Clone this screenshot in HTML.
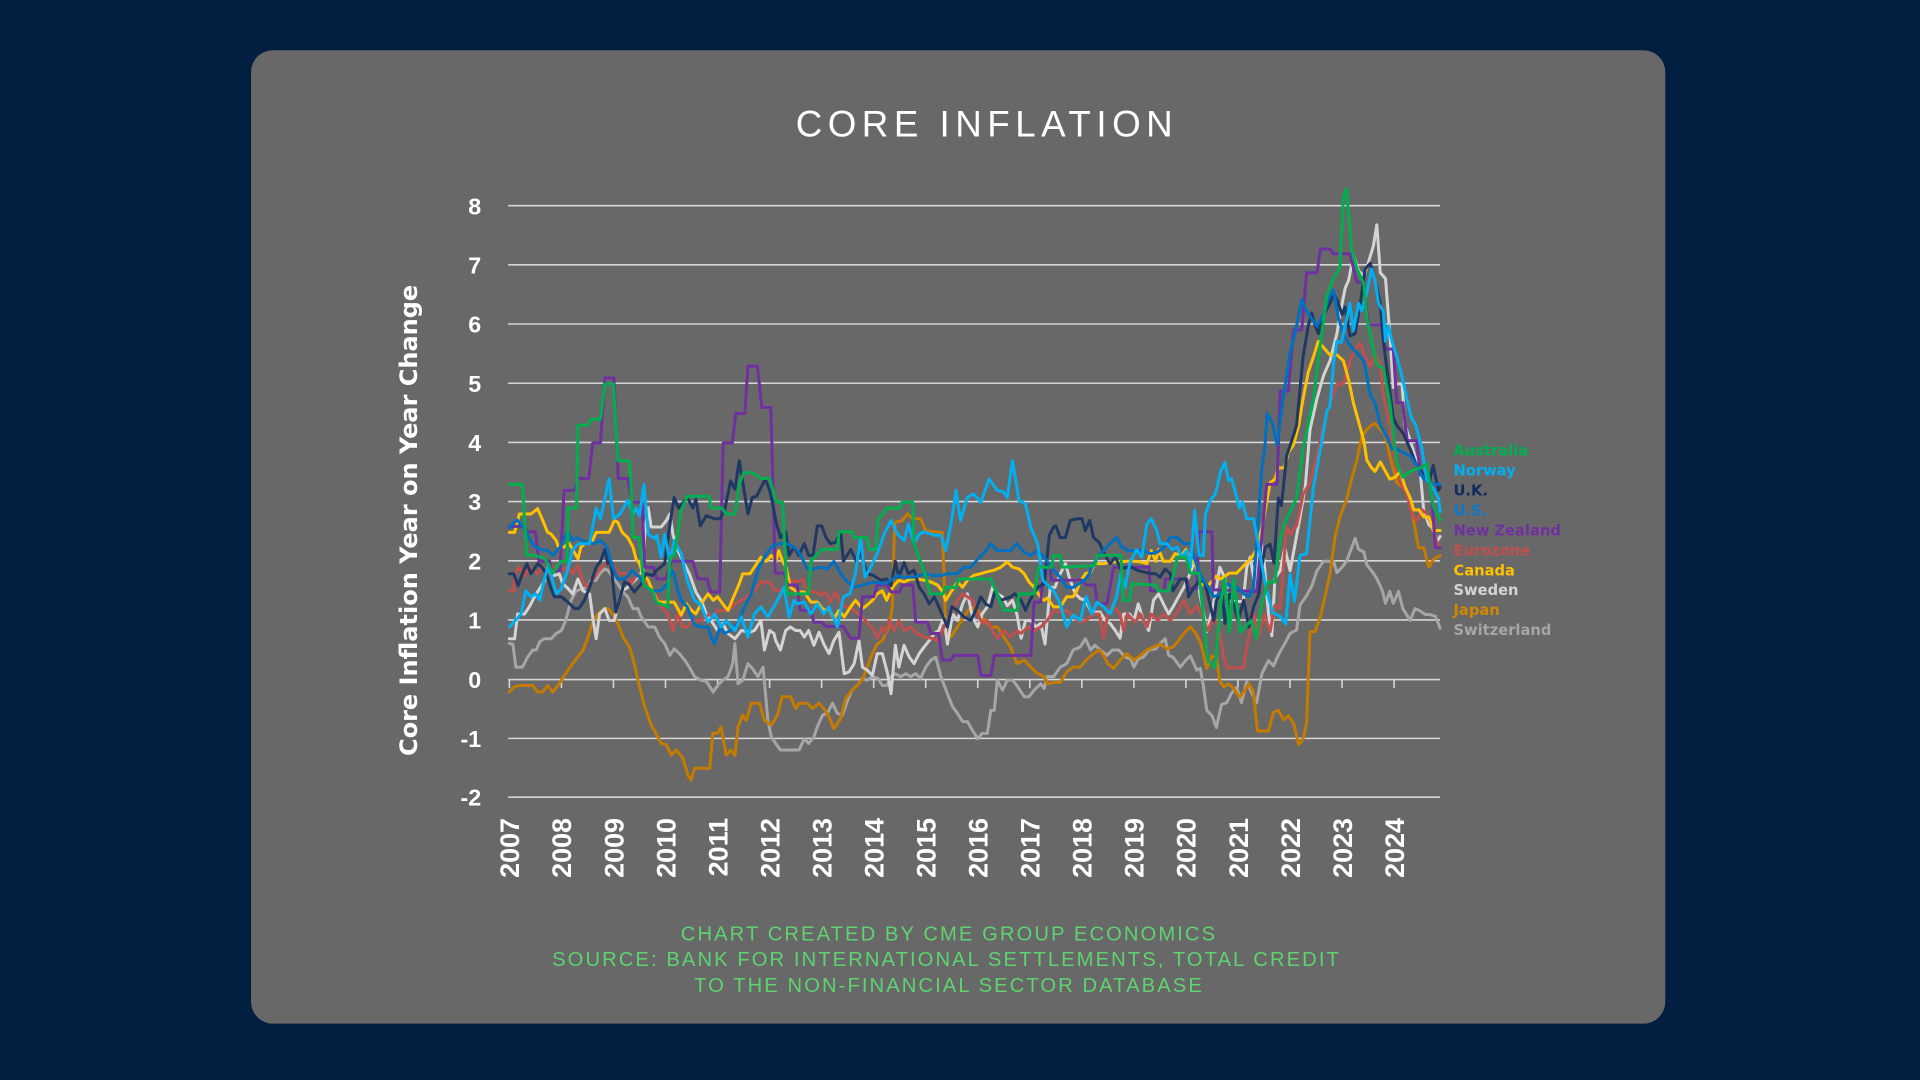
<!DOCTYPE html>
<html>
<head>
<meta charset="utf-8">
<style>
  html, body { margin: 0; padding: 0; background: #021e40; }
  svg { display: block; }
  .s { fill: none; stroke-width: 3; stroke-linejoin: round; stroke-linecap: round; vector-effect: non-scaling-stroke; }
  .g { stroke: #d6d6d6; stroke-width: 1.3; }
  .yl { font-family: "Liberation Sans", sans-serif; font-weight: bold; font-size: 19px; fill: #ffffff; text-anchor: end; }
  .xl { font-family: "Liberation Sans", sans-serif; font-weight: bold; font-size: 22px; fill: #ffffff; text-anchor: end; }
  .lg { font-family: "DejaVu Sans", "Liberation Sans", sans-serif; font-weight: bold; font-size: 12px; }
  .ft { font-family: "Liberation Sans", sans-serif; font-size: 16.5px; letter-spacing: 1.7px; fill: #5ed36f; text-anchor: middle; }
</style>
</head>
<body>
<svg width="1920" height="1080" viewBox="0 0 1568 882" xmlns="http://www.w3.org/2000/svg">
  <rect x="0" y="0" width="1568" height="882" fill="#021e40"/>
  <rect x="205" y="41" width="1155" height="795" rx="18" ry="18" fill="#686868"/>

  <text x="806" y="111.6" font-family="Liberation Sans, sans-serif" font-size="30" letter-spacing="4.5" fill="#ffffff" text-anchor="middle">CORE INFLATION</text>

  <!-- gridlines -->
  <g class="g">
    <line x1="415" y1="168" x2="1176" y2="168"/>
    <line x1="415" y1="216.3" x2="1176" y2="216.3"/>
    <line x1="415" y1="264.6" x2="1176" y2="264.6"/>
    <line x1="415" y1="313" x2="1176" y2="313"/>
    <line x1="415" y1="361.3" x2="1176" y2="361.3"/>
    <line x1="415" y1="409.6" x2="1176" y2="409.6"/>
    <line x1="415" y1="458" x2="1176" y2="458"/>
    <line x1="415" y1="506.3" x2="1176" y2="506.3"/>
    <line x1="415" y1="555" x2="1176" y2="555"/>
    <line x1="415" y1="603" x2="1176" y2="603"/>
    <line x1="415" y1="651" x2="1176" y2="651"/>
    <!-- ticks -->
    <line x1="416" y1="555" x2="416" y2="562"/>
    <line x1="458.5" y1="555" x2="458.5" y2="562"/>
    <line x1="501" y1="555" x2="501" y2="562"/>
    <line x1="543.5" y1="555" x2="543.5" y2="562"/>
    <line x1="586" y1="555" x2="586" y2="562"/>
    <line x1="628.5" y1="555" x2="628.5" y2="562"/>
    <line x1="671" y1="555" x2="671" y2="562"/>
    <line x1="713.5" y1="555" x2="713.5" y2="562"/>
    <line x1="756" y1="555" x2="756" y2="562"/>
    <line x1="798.5" y1="555" x2="798.5" y2="562"/>
    <line x1="841" y1="555" x2="841" y2="562"/>
    <line x1="883.5" y1="555" x2="883.5" y2="562"/>
    <line x1="926" y1="555" x2="926" y2="562"/>
    <line x1="968.5" y1="555" x2="968.5" y2="562"/>
    <line x1="1011" y1="555" x2="1011" y2="562"/>
    <line x1="1053.5" y1="555" x2="1053.5" y2="562"/>
    <line x1="1096" y1="555" x2="1096" y2="562"/>
    <line x1="1138.5" y1="555" x2="1138.5" y2="562"/>
  </g>

  <!-- y labels -->
  <text class="yl" x="393" y="175">8</text>
  <text class="yl" x="393" y="223.3">7</text>
  <text class="yl" x="393" y="271.6">6</text>
  <text class="yl" x="393" y="320">5</text>
  <text class="yl" x="393" y="368.3">4</text>
  <text class="yl" x="393" y="416.6">3</text>
  <text class="yl" x="393" y="465">2</text>
  <text class="yl" x="393" y="513.3">1</text>
  <text class="yl" x="393" y="562">0</text>
  <text class="yl" x="393" y="610">-1</text>
  <text class="yl" x="393" y="658">-2</text>

  <!-- x labels -->
  <text class="xl" transform="translate(424,668) rotate(-90)">2007</text>
  <text class="xl" transform="translate(466.5,668) rotate(-90)">2008</text>
  <text class="xl" transform="translate(509,668) rotate(-90)">2009</text>
  <text class="xl" transform="translate(551.5,668) rotate(-90)">2010</text>
  <text class="xl" transform="translate(594,668) rotate(-90)">2011</text>
  <text class="xl" transform="translate(636.5,668) rotate(-90)">2012</text>
  <text class="xl" transform="translate(679,668) rotate(-90)">2013</text>
  <text class="xl" transform="translate(721.5,668) rotate(-90)">2014</text>
  <text class="xl" transform="translate(764,668) rotate(-90)">2015</text>
  <text class="xl" transform="translate(806.5,668) rotate(-90)">2016</text>
  <text class="xl" transform="translate(849,668) rotate(-90)">2017</text>
  <text class="xl" transform="translate(891.5,668) rotate(-90)">2018</text>
  <text class="xl" transform="translate(934,668) rotate(-90)">2019</text>
  <text class="xl" transform="translate(976.5,668) rotate(-90)">2020</text>
  <text class="xl" transform="translate(1019,668) rotate(-90)">2021</text>
  <text class="xl" transform="translate(1061.5,668) rotate(-90)">2022</text>
  <text class="xl" transform="translate(1104,668) rotate(-90)">2023</text>
  <text class="xl" transform="translate(1146.5,668) rotate(-90)">2024</text>

  <!-- y axis title -->
  <text transform="translate(340.5,425) rotate(-90)" font-family="DejaVu Sans, Liberation Sans, sans-serif" font-weight="bold" font-size="19.6" fill="#ffffff" text-anchor="middle">Core Inflation Year on Year Change</text>

  <!-- series -->
  <g transform="translate(416,555) scale(3.542,-48.3)">
    <!-- Switzerland -->
    <polyline class="s" stroke="#a6a6a6" points="0,0.61 0.8,0.6 1.5,0.21 3,0.21 4.2,0.38 5.4,0.5 6.2,0.5 7,0.64 8,0.69 9.6,0.69 10.8,0.78 12,0.83 13,1.0 14.2,1.34 15.4,1.5 17,1.54 18,1.56 18.8,1.68 20,1.68 20.8,1.79 22,1.87 22.7,1.85 23.8,1.73 25,1.62 26.2,1.48 27.3,1.4 28.5,1.2 29.6,1.2 30.4,1.06 32,0.89 33.5,0.89 34.6,0.72 35.8,0.61 37,0.41 38,0.52 39.2,0.44 40.4,0.33 41.5,0.21 42.7,0.05 44.2,-0.01 45.4,-0.03 47,-0.21 48,-0.1 49.2,-0.01 50.4,0.05 51.5,0.27 52,0.61 52.7,-0.07 53.8,-0.01 55,0.27 56,0.19 57.3,0.05 58.5,0.21 59.6,-0.69 60.4,-0.97 61.4,-1.08 62.5,-1.19 66.8,-1.19 68,-1.0 69,-1.08 70.2,-0.97 71,-0.8 72.2,-0.6 73.3,-0.57 74.5,-0.4 75.6,-0.57 76.8,-0.6 78,-0.35 79,-0.18 80.2,-0.1 81.4,0.02 82.5,-0.01 83.7,0.05 85,0.02 86,-0.1 87,-0.1 88,0.05 89,0.1 90.2,0.05 91.4,0.1 92.5,0.05 93.7,0.1 94.8,0.02 96,0.21 97.2,0.33 98.3,0.38 99.5,0.05 101,-0.24 102.2,-0.46 103.3,-0.57 104.5,-0.71 105.6,-0.71 106.8,-0.86 108,-1.0 109,-0.91 110.2,-0.91 111,-0.52 111.8,-0.52 112.5,-0.01 113.7,-0.18 114.8,-0.01 116,-0.01 117,-0.1 118.7,-0.29 119.8,-0.29 121,-0.18 122.5,-0.07 123.3,-0.15 124,0.05 125.5,0.05 127,0.21 128.5,0.27 130,0.5 131.6,0.55 132.8,0.69 134,0.5 135,0.58 136.2,0.5 137.8,0.41 139,0.5 140.5,0.5 142,0.38 143.2,0.35 144,0.21 145,0.35 146.2,0.38 147.4,0.5 149,0.52 150,0.61 151.2,0.69 152,0.41 153,0.38 154.7,0.21 156,0.33 157,0.4 158.5,0.16 159.3,0.19 160,-0.1 160.8,-0.52 162,-0.61 163,-0.81 164.2,-0.42 165.4,-0.39 166.5,-0.23 167.7,-0.13 168.8,-0.39 170,-0.03 171.2,-0.23 172.3,-0.39 173.5,0.1 175,0.32 176.2,0.23 177.3,0.42 178.8,0.61 180,0.78 181.5,0.84 182.3,1.26 183.8,1.42 185,1.58 186.2,1.84 187.7,2.0 190,2.0 190.8,1.81 192,1.9 193,2.0 194.2,2.23 195,2.39 195.8,2.2 197,2.16 197.7,1.94 198.8,1.84 200,1.71 201.2,1.52 202,1.29 203,1.49 203.8,1.29 205,1.49 206,1.2 207.7,1.0 208.8,1.2 210,1.16 211.2,1.1 212.3,1.1 213.5,1.07 214.6,0.87"/>
    <!-- Japan -->
    <polyline class="s" stroke="#c47b00" points="0,-0.21 1.2,-0.12 2.3,-0.1 5.4,-0.1 6.5,-0.21 7.7,-0.21 8.8,-0.1 10,-0.21 11.2,-0.1 13.5,0.16 15.4,0.35 17,0.5 18,0.69 19.2,0.97 20.4,1.11 22,1.2 22.7,1.2 23.8,1.11 25,0.95 26.2,0.72 27.7,0.55 28.8,0.27 30,-0.12 31.2,-0.46 32.7,-0.77 33.8,-0.91 35,-1.08 36.2,-1.1 37.3,-1.28 38.5,-1.19 40,-1.33 41.2,-1.62 41.9,-1.7 42.7,-1.5 46.2,-1.5 46.9,-0.91 48,-0.91 48.8,-0.8 50,-1.28 51,-1.19 52,-1.28 52.7,-0.8 53.8,-0.6 54.6,-0.69 55.8,-0.4 57.7,-0.4 58.8,-0.69 60.4,-0.77 61.8,-0.6 62.9,-0.29 64.8,-0.29 66,-0.49 66.8,-0.4 68.7,-0.4 69.8,-0.49 71.4,-0.4 72.5,-0.49 73.7,-0.63 74.8,-0.83 76.4,-0.66 77.5,-0.32 79,-0.18 80.2,-0.1 81.4,0.0 82.5,0.21 83.7,0.44 84.8,0.6 86,0.66 86.8,0.78 87.5,0.89 88.3,1.23 88.7,2.35 88.9,2.66 90.6,2.69 91.8,2.8 93,2.72 94.8,2.72 96,2.52 98,2.5 99.8,2.49 100.2,1.79 100.6,0.78 101.8,0.72 103.3,0.89 104.8,1.06 106.4,1.23 108,1.17 109.5,1.0 111,0.89 112.5,0.89 114,0.72 115.6,0.55 117,0.27 118.7,0.33 120.2,0.21 121.8,0.1 123.3,0.05 124,-0.07 125.5,-0.05 127,-0.05 128.5,0.13 130,0.21 131.6,0.21 133,0.33 134.7,0.44 136,0.5 137,0.41 138,0.27 139.3,0.19 140.8,0.33 142.4,0.44 144,0.33 145.5,0.41 147,0.5 148.5,0.55 150,0.6 151.6,0.52 153,0.55 154.3,0.66 155.5,0.78 157,0.89 158.3,0.78 159.5,0.6 160.8,0.19 162,0.4 163,0.38 163.8,-0.03 164.7,-0.12 165.8,-0.07 167,-0.15 168.3,-0.3 169.4,-0.2 170.5,-0.07 171.5,-0.2 172.5,-0.87 175,-0.87 176.2,-0.55 177.3,-0.52 178.5,-0.68 179.6,-0.61 180.8,-0.74 182,-1.1 183,-1.0 183.8,-0.74 184.6,0.81 185.8,0.81 187,1.07 188,1.39 189.2,1.78 190.4,2.42 191.5,2.75 193,3.04 194.2,3.39 195.4,3.71 196.5,4.1 197.7,4.23 198.8,4.3 199.6,4.33 200.8,4.23 202,4.13 203,3.78 204.6,3.33 205.8,3.26 207.3,3.13 208.5,2.68 209.6,2.23 210.8,2.23 212,1.9 213,2.03 214.6,2.1"/>
    <!-- Sweden -->
    <polyline class="s" stroke="#d4d4d4" points="0,0.69 1.2,0.69 1.9,1.11 3.5,1.11 4.6,1.23 5.8,1.4 7,1.54 8,1.65 9.2,1.9 10.4,1.76 11.5,1.79 12.3,1.62 13.5,1.54 14.6,1.45 15.8,1.7 17,1.5 18.5,1.45 19.2,1.06 20,0.69 20.8,1.11 22,1.2 23,1.0 24.2,1.0 25,1.23 26,1.5 27.3,1.56 28.5,1.65 29.6,1.73 30.8,1.85 31.2,2.46 32,2.91 32.7,2.58 35,2.58 36.2,2.69 37,2.8 37.7,2.46 38.5,2.24 40,2.0 41.5,1.79 43,1.48 44.2,1.34 45.4,1.11 46.5,1.0 48,0.83 49.2,0.95 50.4,0.78 52,0.69 53.5,0.83 55.4,0.8 56.5,0.83 58,1.0 58.8,0.5 60,0.83 61,0.78 61.4,0.66 62.5,0.5 63.7,0.83 64.8,0.89 66,0.83 67,0.83 68,0.72 69,0.83 70.2,0.58 71.4,0.8 72.5,0.6 73.7,0.44 74.8,0.66 76,0.8 77.2,0.1 78.3,0.13 79.5,0.27 80.6,0.66 81.4,0.21 82.5,0.16 83.7,0.07 84.8,0.44 86,0.44 87.2,0.1 88,-0.24 89,0.58 89.8,0.21 91,0.58 92.2,0.38 93.3,0.27 94.5,0.44 95.6,0.55 96.8,0.66 98,0.78 99,0.83 100.2,1.06 101,0.6 102.2,1.11 103.3,1.0 104.5,1.28 105.6,1.45 106.8,1.06 108,0.89 109,1.11 110.2,1.23 111.4,1.56 112.5,1.45 113.7,1.4 114.8,1.25 116,1.34 117,1.11 118,0.7 119,1.0 120.2,1.0 121.4,0.89 122.5,0.95 123.5,0.6 124.7,1.56 125.8,1.56 127,1.79 128.2,1.96 129.3,1.68 130.5,1.45 131.6,1.37 132.8,1.34 134,1.17 135,1.14 136.2,1.14 137.4,1.0 138.5,0.95 139.7,0.83 140.8,0.7 141.6,1.11 143,1.11 144,1.0 145,1.28 146.2,1.0 147.4,0.83 148.5,1.34 149.7,1.45 150.8,1.28 152,1.11 153,1.23 154.3,1.4 155.5,1.56 156.6,1.73 157.8,1.96 158.5,1.9 159.2,1.45 160.8,0.81 162.3,1.26 163.8,1.9 165,1.71 166,1.32 169.2,1.32 170,1.9 170.8,2.07 172,1.56 173,2.49 174,2.0 175,1.13 175.8,0.74 176.5,1.71 177.7,1.84 178.8,2.23 180,1.84 181,2.23 182.3,2.75 183.5,3.26 184.6,4.23 186.2,4.75 187.7,5.14 189.2,5.39 190.8,5.85 191.5,6.17 192.7,6.62 193.5,6.75 194.6,7.17 195.8,6.91 197,6.82 198,7.04 199.2,7.33 200,7.69 200.8,6.88 202,6.78 203,5.85 203.8,4.94 204.6,5.0 205.8,5.0 206.5,4.3 207.7,4.04 208.8,3.78 210,3.52 210.8,2.87 212,2.62 213,2.55 213.8,2.33 214.6,2.42"/>
    <!-- Eurozone -->
    <polyline class="s" stroke="#c0504d" points="0,1.5 1,1.5 1.2,1.79 2.3,1.9 3.5,1.75 4.6,1.9 6.5,1.79 7.7,1.9 9.2,1.79 10.4,1.9 12,1.85 13.5,1.9 14.6,1.79 15.8,1.93 17,1.65 18,1.56 19.6,1.73 21.2,1.9 22.7,2.0 24.2,1.9 25.4,1.79 27,1.79 28,1.62 29.6,1.79 31,1.68 32.7,1.56 34.2,1.4 35,1.23 36.5,1.11 37.7,0.83 38.8,1.11 40,0.89 41,0.89 42.3,1.0 44.2,1.0 45.8,1.09 47.3,1.09 48,1.17 50.4,1.17 52,1.28 54.2,1.37 56.5,1.5 58,1.65 59.5,1.65 60.2,1.62 61.4,1.5 62.5,1.52 64,1.5 64.8,1.68 66.4,1.65 67.5,1.7 68.3,1.56 69.8,1.48 71,1.48 71.8,1.42 73,1.48 74,1.31 75.2,1.48 76.4,1.28 77.5,1.23 78.7,1.23 79.8,1.14 81,1.09 82.5,0.97 84,0.83 84.8,0.7 86,0.89 86.8,0.78 87.5,1.0 88.7,0.83 89.8,1.0 91,0.83 92.5,0.89 94,0.78 95.6,0.72 97.2,0.7 98.7,0.66 99.8,0.83 101,1.0 102.2,1.17 103.3,1.34 104.5,1.45 105.6,1.4 106.8,1.34 108,1.11 109,0.95 110.2,1.0 111.4,0.83 112.5,0.7 114,0.83 115.6,0.72 117,0.83 118,0.78 119.5,0.89 121,0.83 122.5,0.89 124,1.0 125.5,1.17 127,1.14 128.5,1.17 130,1.06 131.6,0.97 133,1.0 134.7,1.11 136,1.11 137,0.7 138,1.11 139.3,1.23 140.8,1.11 141.6,0.83 142.5,1.11 144.3,0.97 145.5,1.11 147,0.89 148,1.11 149.5,1.0 150.8,1.11 152.4,1.0 154,1.14 155.5,1.34 157,1.11 158.5,1.25 160,1.03 161,0.83 162.4,1.06 163.5,0.89 164.7,0.38 165.5,0.2 169.3,0.2 170,0.55 171.6,1.11 172.8,0.72 174,1.11 175.4,0.81 176.5,1.26 177.7,1.2 179.2,2.58 180,2.45 181.5,2.6 183,3.13 184.6,3.33 186.2,3.78 187.7,4.3 189.2,4.68 190.8,5.0 192.3,5.0 193.8,5.39 195,5.59 196.2,5.68 197.3,5.46 198.5,5.3 199.6,5.49 200.8,5.33 201.5,4.81 203,4.3 204.2,3.65 205.4,3.33 207,3.13 208,2.81 209.2,2.68 210.4,2.87 211.5,2.81 212.7,2.6 214.2,2.23 214.6,2.25"/>
    <!-- Canada -->
    <polyline class="s" stroke="#ffc000" points="0,2.49 1.2,2.49 2.3,2.8 5,2.8 6.5,2.89 7.7,2.69 8.8,2.49 9.6,2.46 10.8,2.35 11.5,2.2 12.5,2.24 13.8,2.3 14.6,2.2 15.8,2.04 16.5,2.24 17.7,2.32 19,2.32 20,2.49 23,2.49 24.2,2.69 25,2.66 26,2.49 27.3,2.4 28.5,2.24 29.2,2.04 30,1.96 30.8,1.79 32,1.68 33,1.5 34.2,1.31 38,1.31 39.6,1.09 40.8,1.28 42,1.17 43,1.11 44.2,1.28 45.8,1.45 47,1.34 48,1.4 49.2,1.28 50.4,1.17 52,1.45 53,1.62 53.8,1.79 55.5,1.79 57,1.96 58,2.07 59.2,2.0 60.4,2.1 61.5,2.0 62.1,2.18 63,2.0 63.8,1.9 64.8,1.56 66.4,1.48 68,1.48 69.5,1.31 71,1.31 72.5,1.17 73.7,1.2 74.8,1.03 76,1.17 77.2,1.06 78.7,1.23 79.8,1.34 81.4,1.2 82.5,1.26 83.7,1.34 84.8,1.45 86,1.5 87,1.34 88.3,1.56 89.8,1.68 91,1.65 92.5,1.7 94,1.7 95.6,1.68 97.2,1.65 98.7,1.6 99.8,1.5 100.6,1.34 101.8,1.48 103.3,1.65 104.5,1.56 105.6,1.68 107,1.76 108.7,1.79 110,1.82 111.8,1.85 113.3,1.9 114.8,1.99 116,1.9 117.5,1.87 118.7,1.79 119.8,1.65 121,1.56 122.4,1.4 123.3,1.34 124,1.38 125.5,1.23 127,1.23 128.5,1.4 130,1.4 130.8,1.5 131.6,1.65 132.8,1.79 134,1.82 135,1.96 137,1.96 139,1.99 140.8,1.99 142.5,2.0 144,2.0 145.5,1.99 147,1.96 148,2.18 149,2.0 149.7,2.2 150.8,2.0 152.4,2.0 153.5,2.13 155,2.1 156,2.2 157,2.05 158.5,1.9 160,1.6 161.2,1.6 163,1.75 164,1.7 166,1.8 167.7,1.8 169,1.9 170.8,2.03 172.3,2.2 173.2,2.46 174,2.75 175.4,3.33 176.5,3.39 177.3,3.58 178.7,3.58 179.6,3.84 180.8,3.97 182,4.3 183,4.75 184.2,5.2 185.4,5.46 186.5,5.72 187.3,5.65 188,5.59 189.2,5.49 190.8,5.49 192.3,5.39 193.5,5.07 194.6,4.68 195.8,4.36 197,4.04 197.7,3.71 198.8,3.58 199.6,3.52 200.8,3.68 202,3.52 203,3.39 204.2,3.42 205.4,3.52 206.5,3.26 207.7,3.07 208.5,2.87 209.7,2.87 210.8,2.75 212,2.75 213,2.52 214.6,2.52"/>
    <!-- New Zealand -->
    <polyline class="s" stroke="#7030a0" points="0,2.59 3.5,2.59 4,2.5 6,2.5 6.8,2.0 9.3,2.0 9.7,1.84 11.7,1.84 12.6,3.2 15,3.2 15.9,3.4 18.3,3.4 19.2,4.0 21,4.0 22,5.1 24.1,5.1 25.1,3.4 27.3,3.4 28.3,3.0 30.6,3.0 31.2,1.9 33.2,1.9 34,1.7 36,1.7 37.4,2.0 42.3,2.0 43.5,1.7 45.6,1.7 46.4,1.48 48.5,1.48 49.3,4.0 51.4,4.0 52.2,4.5 54.3,4.5 55,5.3 57.2,5.3 58.2,4.6 60.3,4.6 61.3,1.8 63.4,1.8 64.2,1.6 66.4,1.6 67,1.17 69.5,1.17 70.2,0.97 72,0.97 73,0.9 77,0.9 78.7,0.7 80.6,0.7 81.4,1.4 84,1.4 84.8,1.6 87,1.6 88,1.48 90,1.48 90.6,1.6 93,1.6 93.7,0.97 96.4,0.97 97.2,0.78 99,0.78 99.8,0.33 101.8,0.33 102.5,0.41 108,0.41 108.7,0.07 111,0.07 111.8,0.41 120.2,0.41 121,1.31 122.5,1.31 123.3,1.9 124.7,1.9 125,1.68 132,1.68 133,1.6 135,1.6 135.5,1.28 137.8,1.28 139.3,1.9 147.5,1.9 147.8,1.5 151,1.5 151.2,1.7 156.2,1.7 156.6,1.54 158.5,1.54 159,2.5 162,2.5 162.3,1.52 172.3,1.49 174.6,3.3 177,3.3 177.7,4.88 179.6,4.88 180.8,5.91 182.7,5.91 183.8,6.88 186.2,6.88 187,7.28 189.2,7.28 190,7.2 193.8,7.2 195.4,6.72 197,6.72 198,6.0 201,6.0 202,5.59 203.8,5.59 204.6,4.68 206,4.68 207,4.04 209.2,4.04 210,3.46 212.3,3.46 213.5,2.23 214.6,2.23"/>
    <!-- U.K. -->
    <polyline class="s" stroke="#203864" points="0,1.79 1,1.79 2,1.59 3,1.79 4,1.96 5,1.79 6.5,1.96 7.5,1.9 8.5,1.79 9.6,1.54 10.4,1.4 12,1.4 13.5,1.31 15,1.2 16,1.2 17.3,1.34 18.5,1.56 20,1.9 21,2.0 22,2.2 22.7,1.96 23.4,2.0 24.2,1.4 24.6,1.14 25.4,1.34 26.5,1.65 27.5,1.62 28.8,1.48 30.4,1.62 31.5,1.79 33,1.76 34,1.85 35.8,1.96 36.5,2.35 37.3,2.77 38,3.08 39,2.9 41,3.08 42.3,2.9 43,3.05 44,2.6 45.4,2.77 47.3,2.72 48.5,2.72 49.6,2.86 51,3.36 52,3.22 53,3.7 54,3.25 55,2.8 56,3.08 57,3.1 59,3.39 60,3.2 61,2.86 61.4,2.69 62.5,2.4 63.7,2.5 64.5,2.1 65.6,2.24 66.8,2.1 68,2.3 69,2.1 70,2.1 71,2.6 72,2.6 73,2.4 74,2.3 75.2,2.32 76.4,2.5 77,2.0 78.7,2.2 80,2.0 81,2.15 82.5,1.79 84,1.76 85.6,1.68 87,1.7 88,1.59 89,2.0 89.8,1.73 91,1.98 92,1.79 93.3,1.85 94.5,1.56 95.6,1.45 96.8,1.28 98,1.4 99,1.23 100.2,1.03 101,0.89 102,1.23 103.3,1.17 104.8,1.06 106.4,1.0 107.5,1.17 108.7,1.4 109.8,1.28 111,1.23 112,1.5 113.3,1.34 114.5,1.37 115.6,1.4 116.5,1.45 118,1.34 119,1.17 120,1.34 121.8,1.56 123.3,1.62 124.5,2.44 125.5,2.58 126,2.6 127,2.4 128.2,2.4 129.3,2.69 131,2.72 132,2.72 132.8,2.52 133.8,2.69 134.7,2.4 136,2.32 137,2.15 138.5,1.96 139.7,2.07 141,1.87 142.4,1.9 143.5,1.9 144.7,1.85 146.2,1.82 147.8,1.79 149,1.79 150,1.73 151.2,1.87 152.4,1.79 153,1.5 154.7,1.7 156,1.7 156.6,1.4 157.8,1.56 159.3,1.68 160.2,1.65 161,1.45 162.4,1.0 163,1.34 164.3,1.5 165,0.95 166,1.45 167,1.28 168,1.0 169.3,1.34 170.5,0.89 171.6,1.23 172.8,1.45 173.5,1.9 174.2,2.23 175.4,2.29 176.3,1.97 177.3,3.07 178,2.94 179.2,3.78 180.8,4.13 181.5,4.3 183,5.46 184.2,5.98 185,6.2 185.8,5.98 186.5,5.85 187.3,6.1 188,6.2 189.2,6.36 190,6.52 190.8,6.43 192,6.17 192.7,6.3 193.8,5.81 195,5.85 196.2,6.36 197.3,6.94 198.5,7.04 199.6,6.75 200.8,6.36 201.5,5.72 202.7,5.04 203.8,4.42 204.6,4.3 206,4.17 207.7,3.9 209,3.65 210.8,3.46 212,3.33 213,3.62 214.2,3.2 214.6,3.25"/>
    <!-- U.S. -->
    <polyline class="s" stroke="#0070c0" points="0,2.57 1.8,2.7 3.5,2.55 5.5,2.27 7.2,2.2 8.8,2.18 10,2.1 11.7,2.24 13.4,2.5 14.6,2.35 15.5,2.4 16.8,2.35 18,2.32 19.5,2.3 21,2.35 22.5,2.24 23.3,2.0 25,1.7 26.7,1.7 28.3,1.84 30,1.73 31.6,1.56 33.2,1.5 34.8,1.5 36.5,1.62 37.4,1.84 38,1.79 38.6,1.56 39.6,1.34 41,1.23 42.7,0.92 44.2,0.89 45.8,0.89 46.5,0.72 47.3,0.6 48.5,0.89 49.6,0.78 51,0.83 52.7,0.95 54.2,1.23 55.8,1.45 57.3,1.85 58.8,2.07 60.4,2.24 62,2.3 64,2.3 65.6,2.24 67,2.13 68.7,1.87 70,1.87 71.8,1.9 73.3,1.87 74.8,2.0 76.4,1.79 78,1.65 79.5,1.56 81,1.59 82.5,1.62 84,1.65 86.4,1.62 88,1.68 89.5,1.76 91,1.73 93.3,1.73 95.6,1.79 98,1.76 99.5,1.76 101,1.79 103.3,1.79 104.8,1.9 106.4,1.9 108,2.04 109.5,2.15 111,2.3 112.5,2.18 114,2.18 115.6,2.18 117,2.3 118.7,2.15 120.2,2.1 121.8,2.18 123.3,2.07 124,2.0 125.5,1.85 127,1.73 128.5,1.56 130,1.56 132,1.65 133.3,1.73 134.7,1.96 136,2.1 137,2.18 138.5,2.3 140,2.4 141.2,2.24 142.8,2.18 144.7,2.18 146.2,2.18 147.8,2.13 149.3,2.15 151,2.24 152.4,2.4 154,2.4 155.5,2.3 157,2.3 158.6,1.9 160,1.68 161.2,1.56 162.4,1.4 164,1.45 165.5,1.62 166.8,1.56 167.8,1.56 169.3,1.45 170.5,1.4 171.6,1.56 172.8,2.86 173.5,3.58 174.2,3.93 174.7,4.5 175.8,4.36 177,3.97 178.5,4.81 180,5.52 181.5,5.98 182.7,6.43 183.8,6.23 185,6.1 186.2,5.98 187.7,6.17 188.8,6.43 190,6.59 191.2,6.1 192.3,5.85 193.8,5.65 195.4,5.52 197,5.39 198.5,4.81 199.6,4.68 200.8,4.3 202.3,4.1 203.5,3.9 204.6,3.9 206,3.84 207.7,3.78 209.2,3.62 210.8,3.39 212.3,3.33 213.8,3.3 214.6,3.3"/>
    <!-- Norway -->
    <polyline class="s" stroke="#00b0f0" points="0,0.89 2.7,1.11 3.8,1.5 5,1.4 6,1.45 7,1.34 8,1.68 9,1.93 10.8,1.45 12,1.54 13.5,1.87 14.6,2.2 16,2.3 18.5,2.3 20,2.9 21,2.72 23,3.39 24,2.72 25.5,2.8 27.3,3.03 28.5,2.8 29.2,2.9 30,2.77 31,3.3 32,2.46 33.5,2.38 34,2.44 35,2.07 35.8,2.46 37,2.0 38,2.35 39.6,2.13 41,1.68 42.7,1.34 44,1.28 45.8,0.97 47.3,1.11 48.8,0.89 50,1.0 52,0.83 53.5,1.06 55,0.72 56.5,1.11 58,1.23 59.6,1.06 61.8,1.34 63.3,1.56 64.5,1.06 65.6,1.34 66.4,1.28 68,1.31 69.5,1.11 71,1.28 72.5,1.11 73.7,1.23 75.6,0.89 77,1.4 78.5,1.45 79.8,1.8 81,2.4 82,1.73 83.3,1.9 84.8,2.13 86.4,2.46 88,2.69 89.5,2.46 91,2.35 92,2.63 93.3,2.3 94.5,2.46 95.6,2.5 98,2.44 99.5,2.44 100.6,2.18 101.8,2.63 103,3.2 104,2.69 105.6,3.08 107,3.14 108.7,3.0 110.6,3.39 112.5,3.2 114,3.17 114.8,3.08 116,3.7 117.5,3.03 119,2.97 120.2,2.58 121.8,2.3 123,1.68 125.5,1.5 127,1.28 128.5,0.89 130,1.09 131.6,1.0 133,1.4 134.3,1.11 135.5,1.31 137,1.23 138.5,1.11 140,1.4 141,1.8 142,1.56 143,1.96 144.6,2.2 145.8,2.07 147,2.63 148,2.72 149.3,2.52 150,2.3 151.6,2.3 152.8,2.2 154,2.24 155,2.07 156.2,2.18 157,1.9 158,2.86 159,2.1 160,2.1 160.5,2.8 161.6,3.03 162.8,3.14 164,3.53 165,3.67 165.8,3.37 166.5,3.4 167.5,3.14 168.3,2.9 169,3.0 170,2.72 171.6,2.72 172.8,2.24 174,1.73 174.6,1.52 176,1.13 177.7,1.07 179,0.94 180,1.78 181,1.32 182.3,2.1 183.8,2.13 185.4,3.26 187,3.9 188.5,4.55 189.2,4.62 190,5.33 190.8,5.72 191.8,5.7 192.7,5.98 193.8,6.36 194.6,5.9 195.8,6.36 196.5,6.23 197.7,6.55 198.8,6.94 199.6,6.75 200.4,6.36 201.5,6.23 202,5.72 202.7,5.98 203.5,5.72 204.6,5.46 206,5.07 207.3,4.62 208,4.42 209,4.3 210.4,3.9 211.5,3.39 213,3.23 214.2,3.07 214.6,2.84"/>
    <!-- Australia -->
    <polyline class="s" stroke="#00b050" points="0,3.3 3,3.3 4,2.1 6,2.1 8,2.05 9,1.95 10,1.8 12,2.0 13.3,2.0 13.5,2.9 15.5,2.9 15.8,4.3 18,4.3 18.8,4.4 21,4.4 22,5.0 24,5.0 25,3.7 27.5,3.7 28,3.4 28.5,2.4 30,2.4 31,1.6 33,1.5 34,1.3 36,1.25 36.5,1.22 37,2.07 38,2.1 39.6,2.86 41,3.1 46,3.1 46.5,2.9 49,2.9 50,2.8 52,2.8 53,3.3 54,3.5 56,3.5 58,3.4 60,3.4 61.5,3.0 63,3.0 64,1.45 65,1.45 69,1.45 69.5,2.0 72,2.2 75.6,2.2 76,2.5 79,2.5 79.5,2.4 82.5,2.4 83,2.2 84.5,2.2 85,2.7 87,2.9 90,2.9 90.5,3.0 93,3.0 93.3,2.3 96,1.75 97,1.45 100,1.45 100.5,1.56 103,1.56 103.5,1.7 111,1.7 114,1.17 117,1.17 117.5,1.45 121,1.45 122,1.9 125,1.9 125.5,2.1 127,2.1 127.5,1.9 135,1.93 135.5,2.1 141,2.1 141.5,1.34 143,1.34 143.5,1.62 149,1.6 149.5,1.5 152,1.5 153,1.73 154,2.07 156,2.07 157,1.8 159,1.8 161,0.33 162.7,0.2 164,1.3 165,1.7 166,0.8 167,1.7 168.5,0.8 171,1.0 172.3,0.7 173.5,1.3 175,1.65 176.5,1.65 177.7,2.36 179,2.7 181.5,3.07 183,3.9 185.4,4.75 187.3,5.85 188.5,6.5 190,6.78 191.5,6.97 192.3,8.17 193,8.3 194.2,7.27 195.4,6.95 197,6.69 197.7,6.1 200,5.33 201.5,5.26 203,4.68 204.6,3.65 206,3.42 207.7,3.52 210,3.58 211.5,3.65 213,2.94 214.6,2.7"/>
  </g>

  <!-- legend -->
  <text class="lg" x="1187" y="372" fill="#00b050">Australia</text>
  <text class="lg" x="1187" y="388.3" fill="#00b0f0">Norway</text>
  <text class="lg" x="1187" y="404.6" fill="#0e2a5e">U.K.</text>
  <text class="lg" x="1187" y="420.9" fill="#0a78cc">U.S.</text>
  <text class="lg" x="1187" y="437.2" fill="#7030a0">New Zealand</text>
  <text class="lg" x="1187" y="453.5" fill="#c0504d">Eurozone</text>
  <text class="lg" x="1187" y="469.8" fill="#ffc000">Canada</text>
  <text class="lg" x="1187" y="486.1" fill="#d4d4d4">Sweden</text>
  <text class="lg" x="1187" y="502.4" fill="#d08800">Japan</text>
  <text class="lg" x="1187" y="518.7" fill="#a6a6a6">Switzerland</text>

  <!-- footer -->
  <text class="ft" x="775" y="768">CHART CREATED BY CME GROUP ECONOMICS</text>
  <text class="ft" x="773" y="789">SOURCE: BANK FOR INTERNATIONAL SETTLEMENTS, TOTAL CREDIT</text>
  <text class="ft" x="775" y="810">TO THE NON-FINANCIAL SECTOR DATABASE</text>
</svg>
</body>
</html>
